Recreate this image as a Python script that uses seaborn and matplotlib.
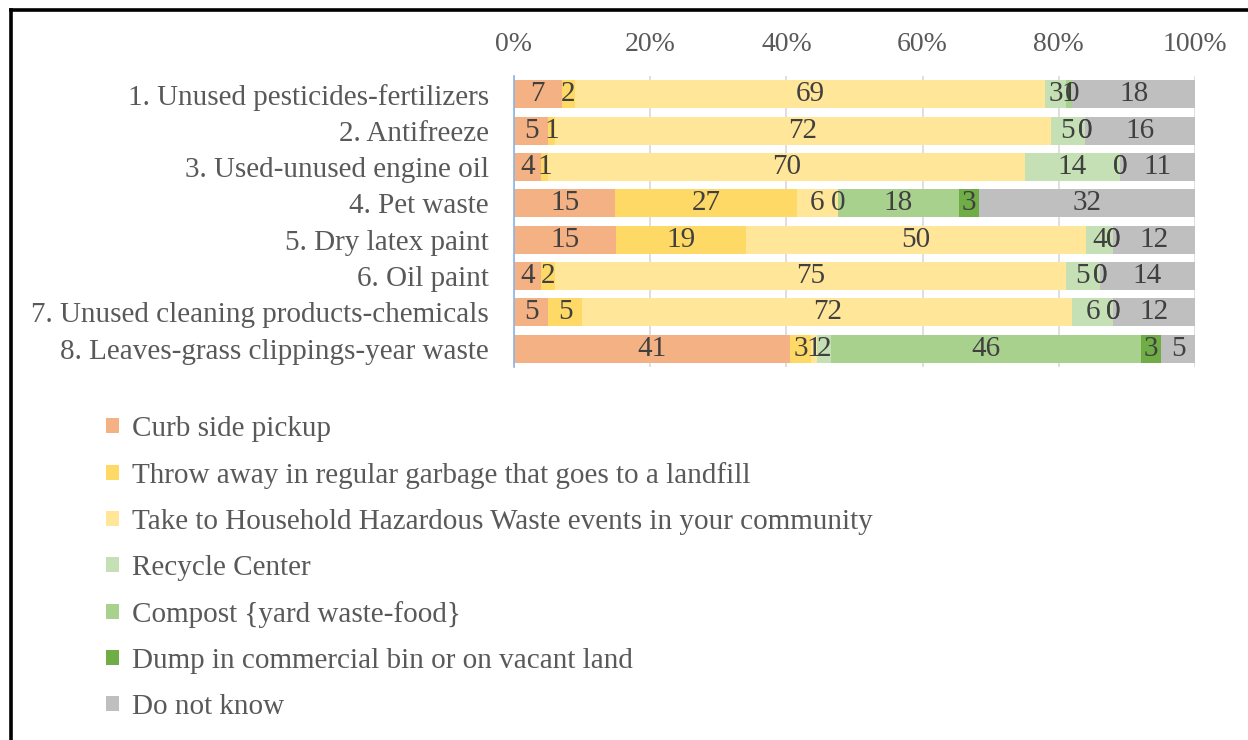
import numpy as np
import matplotlib
matplotlib.use("Agg")
import matplotlib.pyplot as plt
from matplotlib.patches import Patch
from matplotlib.lines import Line2D
import seaborn as sns

# Disposal methods by waste type (survey responses, %)
items = [
    "1. Unused pesticides-fertilizers",
    "2. Antifreeze",
    "3. Used-unused engine oil",
    "4. Pet waste",
    "5. Dry latex paint",
    "6. Oil paint",
    "7. Unused cleaning products-chemicals",
    "8. Leaves-grass clippings-year waste",
]
series = [
    "Curb side pickup",
    "Throw away in regular garbage that goes to a landfill",
    "Take to Household Hazardous Waste events in your community",
    "Recycle Center",
    "Compost {yard waste-food}",
    "Dump in commercial bin or on vacant land",
    "Do not know",
]
curb = [7, 5, 4, 15, 15, 4, 5, 41]
garbage = [2, 1, 1, 27, 19, 2, 5, 3]
hhw = [69, 72, 70, 6, 50, 75, 72, 1]
recycle = [3, 5, 14, 0, 4, 5, 6, 2]
compost = [1, 0, 0, 18, 0, 0, 0, 46]
dump = [0, 0, 0, 3, 0, 0, 0, 3]
unknown = [18, 16, 11, 32, 12, 14, 12, 5]
tick_values = [0, 20, 40, 60, 80, 100]
tick_labels = ["0%", "20%", "40%", "60%", "80%", "100%"]

colors = ["#F4B183", "#FFD966", "#FFE699", "#C5E0B4", "#A9D18E", "#70AD47", "#BFBFBF"]
text_grey = "#595959"
label_grey = "#404040"

sns.set_theme(style="white")
plt.rcParams["font.family"] = ["Liberation Serif", "DejaVu Serif"]

vals = np.array([curb, garbage, hhw, recycle, compost, dump, unknown], dtype=float).T
share = vals / vals.sum(axis=1, keepdims=True) * 100  # 100% stacked
cum = np.cumsum(share, axis=1)

fig = plt.figure(figsize=(12.48, 7.40), dpi=100)
ax = fig.add_axes([514 / 1248, 1 - 367 / 740, 681 / 1248, 291 / 740])

# stacked bars: draw cumulative totals from the outermost series inward
for j in reversed(range(len(series))):
    sns.barplot(x=cum[:, j], y=items, order=items, orient="h", color=colors[j],
                saturation=1, width=0.77, linewidth=0, ax=ax)

for i in range(len(items)):
    for j in range(len(series)):
        cx = cum[i, j] - share[i, j] / 2
        ax.text(cx, i, f"{int(vals[i, j])}", ha="center", va="center",
                fontsize=21, color=label_grey)

ax.set_xlim(0, 100)
ax.set_ylim(len(items) - 0.5, -0.5)
ax.set_xticks(tick_values)
ax.set_xticklabels(tick_labels)
ax.xaxis.tick_top()
ax.tick_params(axis="x", length=0, pad=14, labelsize=20, labelcolor=text_grey)
ax.tick_params(axis="y", length=0, pad=18, labelsize=21, labelcolor=text_grey)
ax.set_xlabel("")
ax.set_ylabel("")
ax.set_axisbelow(True)
ax.grid(axis="x", color="#D9D9D9", linewidth=1.2)
ax.grid(axis="y", visible=False)
for side in ["top", "right", "bottom"]:
    ax.spines[side].set_visible(False)
ax.spines["left"].set_color("#8DB4E2")
ax.spines["left"].set_linewidth(1.2)

handles = [Patch(facecolor=c, edgecolor="none") for c in colors]
fig.legend(handles, series, loc="upper left", bbox_to_anchor=(106 / 1248, 1 - 416 / 740),
           frameon=False, fontsize=21, labelcolor=text_grey,
           handlelength=0.43, handleheight=0.43, handletextpad=0.45,
           labelspacing=0.685, borderaxespad=0, borderpad=0)

# frame lines along the left and top edges
fig.add_artist(Line2D([11 / 1248, 11 / 1248], [0, 1 - 10 / 740], color="black",
                      linewidth=2.6, transform=fig.transFigure, solid_capstyle="projecting"))
fig.add_artist(Line2D([11 / 1248, 1], [1 - 10 / 740, 1 - 10 / 740], color="black",
                      linewidth=2.6, transform=fig.transFigure, solid_capstyle="projecting"))

fig.savefig("out.png", dpi=100, facecolor="white")
